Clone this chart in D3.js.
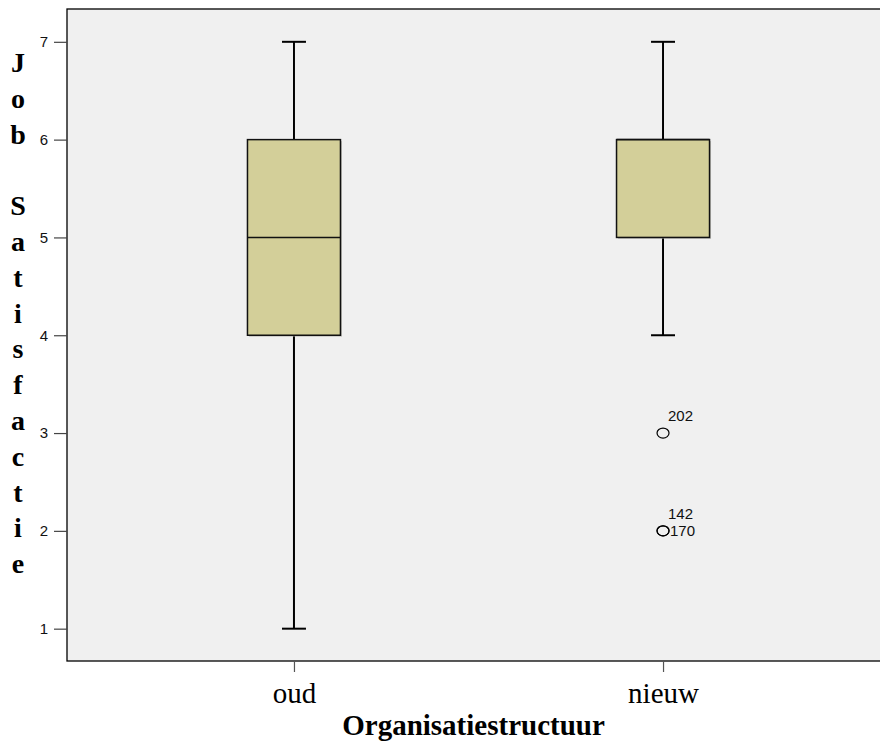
<!DOCTYPE html>
<html>
<head>
<meta charset="utf-8">
<script src="https://cdn.jsdelivr.net/npm/d3@7"></script>
<style>
  html, body { margin: 0; padding: 0; background: #ffffff; }
  svg { display: block; }
</style>
</head>
<body>
<svg id="chart" width="880" height="746"></svg>
<script>
// Job satisfaction by organisation structure
const categories = ["oud", "nieuw"];
const minValues    = [1, 4];
const q1Values     = [4, 5];
const medianValues = [5, 6];
const q3Values     = [6, 6];
const maxValues    = [7, 7];
const outlierGroup = ["nieuw", "nieuw", "nieuw"];
const outlierValue = [3, 2, 2];
const outlierCase  = ["202", "142", "170"];
const yTicks = [1, 2, 3, 4, 5, 6, 7];
const yTitle = "Job Satisfactie";
const xTitle = "Organisatiestructuur";

const W = 880, H = 746;
const plot = { left: 67, top: 9, right: 890, bottom: 661 };

const svg = d3.select("#chart");

const x = d3.scalePoint()
  .domain(categories)
  .range([plot.left, plot.right])
  .padding(0.615);

const y = d3.scaleLinear()
  .domain([0.6695, 7.3355])
  .range([plot.bottom, plot.top]);

// plot background
svg.append("rect")
  .attr("x", plot.left).attr("y", plot.top)
  .attr("width", plot.right - plot.left).attr("height", plot.bottom - plot.top)
  .attr("fill", "#f0f0f0");

const boxW = 93, capW = 24;

const stats = categories.map((c, i) => ({
  cat: c, min: minValues[i], q1: q1Values[i], med: medianValues[i], q3: q3Values[i], max: maxValues[i]
}));

const g = svg.append("g");

stats.forEach(s => {
  const cx = x(s.cat);
  // whiskers
  g.append("line")
    .attr("x1", cx).attr("x2", cx).attr("y1", y(s.max)).attr("y2", y(s.q3))
    .attr("stroke", "#000").attr("stroke-width", 2);
  g.append("line")
    .attr("x1", cx).attr("x2", cx).attr("y1", y(s.q1)).attr("y2", y(s.min))
    .attr("stroke", "#000").attr("stroke-width", 2);
  // caps
  [s.max, s.min].forEach(v => {
    g.append("line")
      .attr("x1", cx - capW / 2).attr("x2", cx + capW / 2)
      .attr("y1", y(v)).attr("y2", y(v))
      .attr("stroke", "#000").attr("stroke-width", 2);
  });
  // box shadow
  g.append("rect")
    .attr("x", cx - boxW / 2 + 1.5).attr("y", y(s.q3) + 1.5)
    .attr("width", boxW).attr("height", y(s.q1) - y(s.q3))
    .attr("fill", "#a9a9a0").attr("opacity", 0.6);
  // box
  g.append("rect")
    .attr("x", cx - boxW / 2).attr("y", y(s.q3))
    .attr("width", boxW).attr("height", y(s.q1) - y(s.q3))
    .attr("fill", "#d3cf99").attr("stroke", "#111").attr("stroke-width", 1.5);
  // median
  g.append("line")
    .attr("x1", cx - boxW / 2).attr("x2", cx + boxW / 2)
    .attr("y1", y(s.med)).attr("y2", y(s.med))
    .attr("stroke", "#111").attr("stroke-width", 1.5);
});

// outliers
const outliers = outlierGroup.map((c, i) => ({ cat: c, v: outlierValue[i], id: outlierCase[i] }));
outliers.forEach(o => {
  g.append("ellipse")
    .attr("cx", x(o.cat)).attr("cy", y(o.v))
    .attr("rx", 6).attr("ry", 5)
    .attr("fill", "none").attr("stroke", "#000").attr("stroke-width", 1.2);
});
// case labels: first label of a stacked group sits above, the next to the right
const seen = {};
outliers.forEach(o => {
  const key = o.cat + "|" + o.v;
  const n = seen[key] || 0;
  seen[key] = n + 1;
  const cx = x(o.cat), cy = y(o.v);
  g.append("text")
    .attr("x", n === 0 ? cx + 5 : cx + 7)
    .attr("y", n === 0 ? cy - 12 : cy + 5)
    .attr("font-family", "Arial, 'Liberation Sans', sans-serif")
    .attr("font-size", 15)
    .attr("fill", "#111")
    .text(o.id);
});

// frame
svg.append("rect")
  .attr("x", plot.left).attr("y", plot.top)
  .attr("width", plot.right - plot.left).attr("height", plot.bottom - plot.top)
  .attr("fill", "none").attr("stroke", "#000").attr("stroke-width", 1.3);

// y axis
const yAxis = svg.append("g")
  .attr("transform", `translate(${plot.left},0)`)
  .call(d3.axisLeft(y).tickValues(yTicks).tickFormat(d3.format("d")).tickSize(13).tickPadding(6));
yAxis.select(".domain").remove();
yAxis.selectAll(".tick line").attr("stroke", "#444").attr("stroke-width", 1.2);
yAxis.selectAll(".tick text")
  .attr("font-family", "Arial, 'Liberation Sans', sans-serif")
  .attr("font-size", 15).attr("fill", "#111");

// x axis
const xAxis = svg.append("g")
  .attr("transform", `translate(0,${plot.bottom})`)
  .call(d3.axisBottom(x).tickSize(11).tickPadding(10));
xAxis.select(".domain").remove();
xAxis.selectAll(".tick line").attr("stroke", "#555").attr("stroke-width", 1.2);
xAxis.selectAll(".tick text")
  .attr("font-family", "'Liberation Serif', 'Times New Roman', serif")
  .attr("font-size", 29).attr("fill", "#000");

// x title
svg.append("text")
  .attr("x", (plot.left + W) / 2).attr("y", 735)
  .attr("text-anchor", "middle")
  .attr("font-family", "'Liberation Serif', 'Times New Roman', serif")
  .attr("font-weight", "bold").attr("font-size", 29)
  .attr("fill", "#000")
  .text(xTitle);

// y title, one letter per line
const letters = yTitle.split("");
svg.append("g").selectAll("text")
  .data(letters)
  .join("text")
  .attr("x", 18)
  .attr("y", (d, i) => 72 + i * 35.8)
  .attr("text-anchor", "middle")
  .attr("font-family", "'Liberation Serif', 'Times New Roman', serif")
  .attr("font-weight", "bold").attr("font-size", 28)
  .attr("fill", "#000")
  .text(d => d);
</script>
</body>
</html>
